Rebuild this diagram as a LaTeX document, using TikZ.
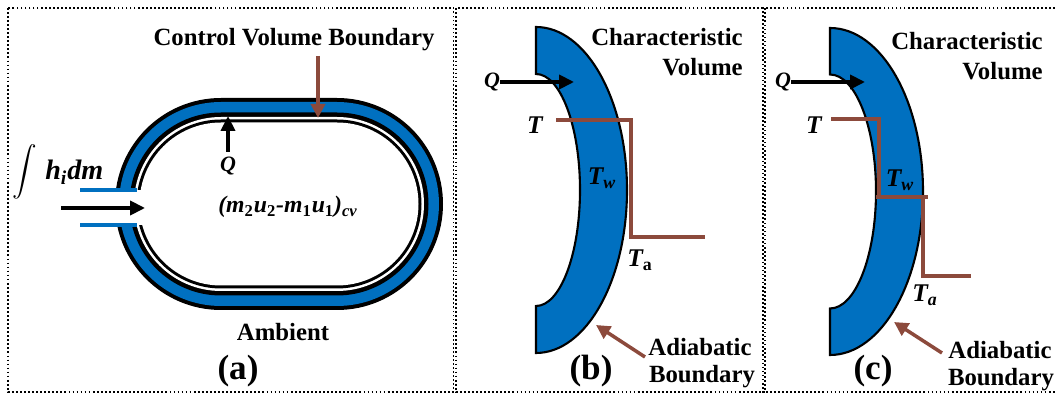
\documentclass[tikz,border=0pt]{standalone}
\usepackage{fontspec}
\setmainfont{Liberation Serif}
\usetikzlibrary{arrows.meta}

\definecolor{wallblue}{HTML}{0070C0}
\definecolor{wirebrown}{HTML}{8C4A3C}

\tikzset{
	panel/.style={draw, line width=1.1pt, dash pattern=on 1pt off 1.3pt},
	label/.style={inner sep=0pt, font=\fontsize{14.1}{16}\selectfont\bfseries},
	symbol/.style={inner sep=0pt, font=\fontsize{14.5}{16}\selectfont\bfseries\itshape},
	heatsym/.style={inner sep=0pt, font=\fontsize{12.5}{14}\selectfont\bfseries\itshape},
	tag/.style={inner sep=0pt, font=\fontsize{20}{22}\selectfont\bfseries},
	heat/.style={line width=2pt, -{Triangle[length=8.5pt,width=8pt]}},
	pointer/.style={wirebrown, line width=2pt, -{Triangle[length=8pt,width=8pt]}},
	wire/.style={wirebrown, line width=2.7pt},
	inlet/.style={wallblue, line width=2.5pt}
}

% Forma del recipiente
\newcommand{\stadium}[1]{(221,{204-#1}) -- (337,{204-#1}) arc[start angle=-90, end angle=90, radius=#1] -- (221,{204+#1}) arc[start angle=90, end angle=270, radius=#1] -- cycle}
\newcommand{\crescent}[6]{\fill[wallblue, draw=black, line width=1.2pt] (#1,{#2-#4}) arc[start angle=-90, end angle=90, x radius=#3, y radius=#4] -- (#1,{#2+#6}) arc[start angle=90, end angle=-90, x radius=#5, y radius=#6] -- cycle;}

\begin{document}
\begin{tikzpicture}[x=0.02cm, y=-0.02cm]

\useasboundingbox (0,0) rectangle (1055,394);

% Marcos
	\draw[panel] (8,8) rectangle (453.5,392);
	\draw[panel] (456,8) rectangle (765,392);
	\draw[panel] (1055,8) -- (763,8) -- (763,392) -- (1055,392);

% Panel a
	\fill[black] \stadium{106};
	\fill[wallblue] \stadium{102};
	\fill[black] \stadium{91.5};
	\fill[white] \stadium{87};
	\fill[black] \stadium{84.5};
	\fill[white] \stadium{81.5};
	\fill[white] (78,190) rectangle (146,225);
	\draw[inlet] (80,190) -- (137,190);
	\draw[inlet] (80,225) -- (137,225);

	\coordinate (inletstart) at (61,208);
	\coordinate (inletend) at (145,208);
	\draw[heat] (inletstart) -- (inletend);

	\node[scale=1.4] (integral) at (25,172) {$\displaystyle\int$};
	\node[symbol, font=\fontsize{16}{18}\selectfont\bfseries\itshape, anchor=west] (enthalpy) at (45,172) {h\textsubscript{i}dm};
	\node[heatsym] (Qa) at (228,166) {Q};
	\coordinate (Qaend) at (228,116);
	\draw[heat] (228,152) -- (Qaend);

	\node[symbol, font=\fontsize{13.5}{16}\selectfont\bfseries\itshape] (storage) at (288,207) {(m\textsubscript{\upshape 2}u\textsubscript{\upshape 2}-m\textsubscript{\upshape 1}u\textsubscript{\upshape 1})\textsubscript{cv}};
	\node[label] (boundary) at (294,40) {Control Volume Boundary};
	\coordinate (cvstart) at (318,56);
	\coordinate (cvend) at (318,118);
	\draw[pointer] (cvstart) -- (cvend);
	\node[label] (ambient) at (283,332) {Ambient};
	\node[tag] (taga) at (238,371) {(a)};

% Panel b
	\crescent{536}{190}{91}{163}{44}{116}

	\node[heatsym] (Qb) at (492,82) {Q};
	\coordinate (Qbend) at (574,82);
	\draw[heat] (Qb.east) -- (Qbend);

	\node[symbol] (Tb) at (535,125) {T};
	\draw[wire] (556,120) -- (631,120) -- (631,237) -- (705,237);
	\node[symbol] (Twb) at (602,178) {T\textsubscript{w}};
	\node[symbol] (Tab) at (640,260) {T\textsubscript{\upshape a}};

	\node[label, anchor=east] (charb) at (743,37) {Characteristic};
	\node[label, anchor=east] (volb) at (743,67) {Volume};
	\node[label] (adib) at (700,347) {Adiabatic};
	\node[label] (bndb) at (702,377) {Boundary};
	\coordinate (ptrb) at (596,325);
	\draw[pointer] (645,357) -- (ptrb);
	\node[tag] (tagb) at (591,371) {(b)};

% Panel c
	\crescent{830}{191.5}{93}{163.5}{46}{117}

	\node[heatsym] (Qc) at (783,82) {Q};
	\coordinate (Qcend) at (865,82);
	\draw[heat] (Qc.east) -- (Qcend);

	\node[symbol] (Tc) at (814,125) {T};
	\draw[wire] (831,119) -- (879,119) -- (879,197);
	\draw[wire] (876,197) -- (928,197);
	\draw[wire] (923,197) -- (923,276) -- (971,276);
	\node[symbol] (Twc) at (900,180) {T\textsubscript{w}};
	\node[symbol] (Tac) at (925,295) {T\textsubscript{a}};

	\node[label, anchor=east] (charc) at (1043,41) {Characteristic};
	\node[label, anchor=east] (volc) at (1043,71) {Volume};
	\node[label] (adic) at (1000,350) {Adiabatic};
	\node[label] (bndc) at (1001,380) {Boundary};
	\coordinate (ptrc) at (894,322);
	\draw[pointer] (942,353) -- (ptrc);
	\node[tag] (tagc) at (873,371) {(c)};

\end{tikzpicture}
\end{document}
